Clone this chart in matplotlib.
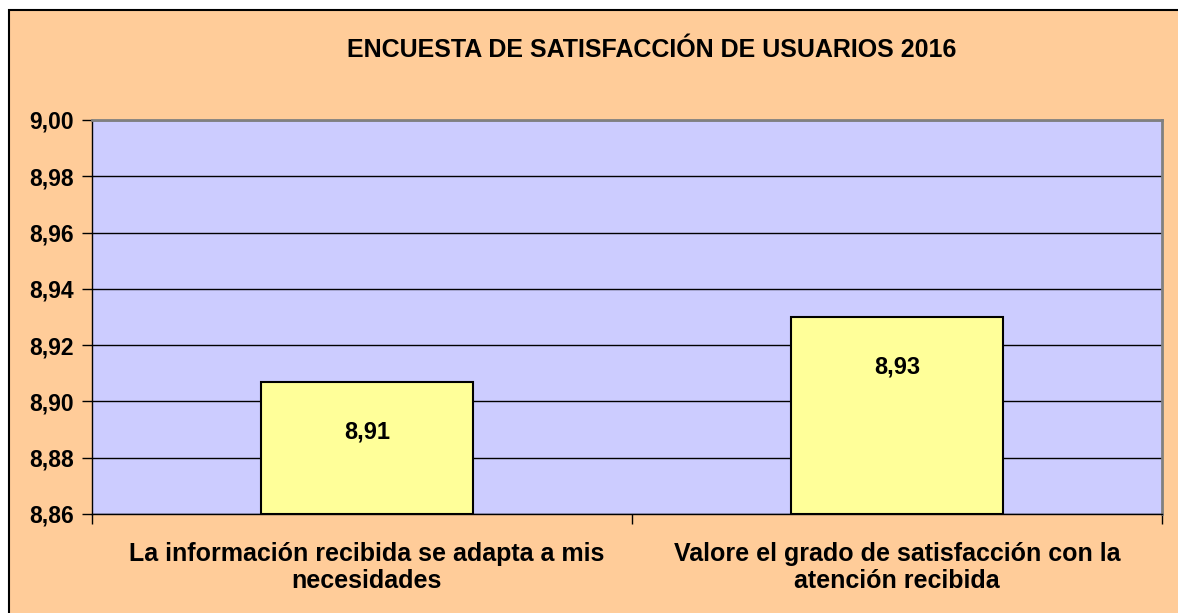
import matplotlib
matplotlib.use("Agg")
import matplotlib.pyplot as plt
from matplotlib.patches import Rectangle

categories = ["La información recibida se adapta a mis\nnecesidades",
              "Valore el grado de satisfacción con la\natención recibida"]
values = [8.907, 8.930]
labels = ["8,91", "8,93"]
yticks = [8.86, 8.88, 8.90, 8.92, 8.94, 8.96, 8.98, 9.00]
ytick_labels = ["8,86", "8,88", "8,90", "8,92", "8,94", "8,96", "8,98", "9,00"]
title = "ENCUESTA DE SATISFACCIÓN DE USUARIOS 2016"

plt.rcParams['font.family'] = ['Liberation Sans', 'DejaVu Sans']

W, H = 1178, 613
fig = plt.figure(figsize=(W / 100, H / 100), dpi=100)
fig.patch.set_facecolor("white")
# outer chart area
bg = Rectangle((9 / W, -0.01), 1.02, (H - 10) / H + 0.01,
               transform=fig.transFigure, facecolor="#FFCC99",
               edgecolor="black", linewidth=1.5, zorder=-10)
fig.patches.append(bg)

ax = fig.add_axes([92 / W, (H - 514) / H, (1162 - 92) / W, (514 - 120) / H])
ax.set_zorder(1)
ax.set_facecolor("#CCCCFF")
x = list(range(len(categories)))
ax.bar(x, [v - yticks[0] for v in values], bottom=yticks[0], width=0.4,
       color="#FFFF99", edgecolor="black", linewidth=1.5, zorder=3)
for xi, v, lab in zip(x, values, labels):
    ax.annotate(lab, (xi, v), xytext=(0, -36), textcoords="offset points",
                ha="center", va="center", fontsize=17, fontweight="bold", zorder=4)

xlo, xhi = -0.518, 1.499
ax.set_xlim(xlo, xhi)
ax.set_ylim(yticks[0], yticks[-1])
ax.set_yticks(yticks)
ax.set_yticklabels(ytick_labels, fontsize=16.5, fontweight="bold")
ax.yaxis.grid(True, color="black", linewidth=1.0, zorder=1)
ax.set_axisbelow(True)
ax.set_xticks(x)
ax.set_xticklabels(categories, fontsize=18, fontweight="bold", linespacing=1.15)
ax.set_xticks([xlo, 0.5, xhi], minor=True)
ax.tick_params(axis="x", which="major", length=0, pad=20)
ax.tick_params(axis="x", which="minor", length=7, width=1, direction="out")
ax.tick_params(axis="y", length=7, width=1, direction="out", pad=6)
for s in ["top", "right"]:
    ax.spines[s].set_color("#808080")
    ax.spines[s].set_linewidth(2)
for s in ["left", "bottom"]:
    ax.spines[s].set_color("black")
    ax.spines[s].set_linewidth(1)

fig.text(652 / W, (H - 50) / H, title, ha="center", va="center",
         fontsize=18, fontweight="bold")

fig.savefig("out.png", dpi=100, facecolor=fig.get_facecolor())
